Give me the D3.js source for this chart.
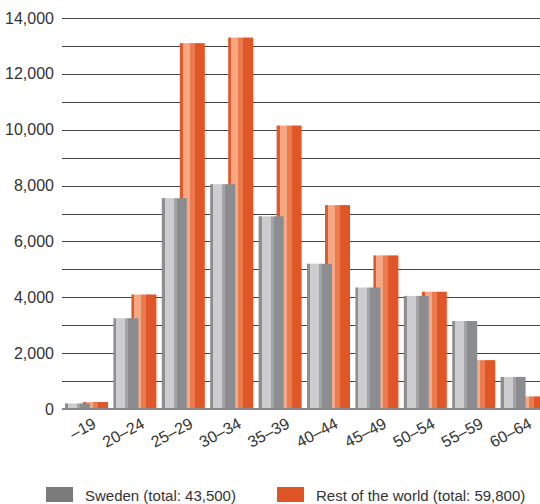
<!DOCTYPE html>
<html>
<head>
<meta charset="utf-8">
<script src="https://cdn.jsdelivr.net/npm/d3@7"></script>
<style>
  body { margin: 0; background: #fff; }
  text { font-family: "Liberation Sans", Arial, sans-serif; fill: #333; }
</style>
</head>
<body>
<div id="chart"></div>
<script>
// data
const ageGroups = ["–19", "20–24", "25–29", "30–34", "35–39", "40–44", "45–49", "50–54", "55–59", "60–64"];
const sweden = [200, 3250, 7550, 8050, 6900, 5200, 4350, 4050, 3150, 1150];
const restOfWorld = [250, 4100, 13100, 13300, 10150, 7300, 5500, 4200, 1750, 450];
const yTicks = [0, 2000, 4000, 6000, 8000, 10000, 12000, 14000];
const legendLabels = ["Sweden (total: 43,500)", "Rest of the world (total: 59,800)"];

const width = 540, height = 504;
const svg = d3.select("#chart").append("svg")
  .attr("width", width)
  .attr("height", height);

const x = d3.scaleBand().domain(ageGroups).range([62, 546]).padding(0);
const y = d3.scaleLinear().domain([0, 14000]).range([409, 18]);

// cylinder-ish banding
const defs = svg.append("defs");
function bands(id, stops) {
  const g = defs.append("linearGradient").attr("id", id)
    .attr("x1", "0%").attr("x2", "100%").attr("y1", "0%").attr("y2", "0%");
  stops.forEach(s => {
    g.append("stop").attr("offset", s[0] + "%").attr("stop-color", s[2]);
    g.append("stop").attr("offset", s[1] + "%").attr("stop-color", s[2]);
  });
}
bands("grayBar", [[0, 12, "#8e8e91"], [12, 48, "#cdcdcf"], [48, 60, "#a4a4a7"], [60, 100, "#8b8c90"]]);
bands("orangeBar", [[0, 12, "#e05a2a"], [12, 40, "#f6a884"], [40, 60, "#ec7a4c"], [60, 100, "#df5628"]]);

// gridlines every 1000
const grid = d3.range(1000, 14001, 1000);
svg.append("g").selectAll("line").data(grid).join("line")
  .attr("x1", 62).attr("x2", width)
  .attr("y1", d => Math.round(y(d)) + 0.5)
  .attr("y2", d => Math.round(y(d)) + 0.5)
  .attr("stroke", "#444")
  .attr("stroke-width", 1.2);

// y labels
svg.append("g").selectAll("text").data(yTicks).join("text")
  .attr("x", 54)
  .attr("y", d => y(d) + 5.5)
  .attr("text-anchor", "end")
  .attr("font-size", 16)
  .text(d => d3.format(",")(d));

const barW = 25;
// orange first, gray drawn over it
svg.append("g").selectAll("rect").data(restOfWorld).join("rect")
  .attr("x", (d, i) => x(ageGroups[i]) + 21)
  .attr("width", barW)
  .attr("y", d => y(d))
  .attr("height", d => y(0) - y(d))
  .attr("fill", "url(#orangeBar)");

svg.append("g").selectAll("rect").data(sweden).join("rect")
  .attr("x", (d, i) => x(ageGroups[i]) + 3)
  .attr("width", barW)
  .attr("y", d => y(d))
  .attr("height", d => y(0) - y(d))
  .attr("fill", "url(#grayBar)");

// baseline
svg.append("line")
  .attr("x1", 62).attr("x2", width)
  .attr("y1", y(0)).attr("y2", y(0))
  .attr("stroke", "#888")
  .attr("stroke-width", 2);

// x labels, rotated
svg.append("g").selectAll("text").data(ageGroups).join("text")
  .attr("transform", d => `translate(${x(d) + x.bandwidth() / 2 + 11},${427}) rotate(-28)`)
  .attr("text-anchor", "end")
  .attr("font-size", 16)
  .text(d => d);

// legend
const legend = svg.append("g");
const legX = [46, 277];
const legCol = ["#7a7a7a", "#e05526"];
legendLabels.forEach((t, i) => {
  legend.append("rect")
    .attr("x", legX[i]).attr("y", 487)
    .attr("width", 27).attr("height", 15)
    .attr("fill", legCol[i]);
  legend.append("text")
    .attr("x", legX[i] + 39).attr("y", 501)
    .attr("font-size", 15)
    .text(t);
});
</script>
</body>
</html>
